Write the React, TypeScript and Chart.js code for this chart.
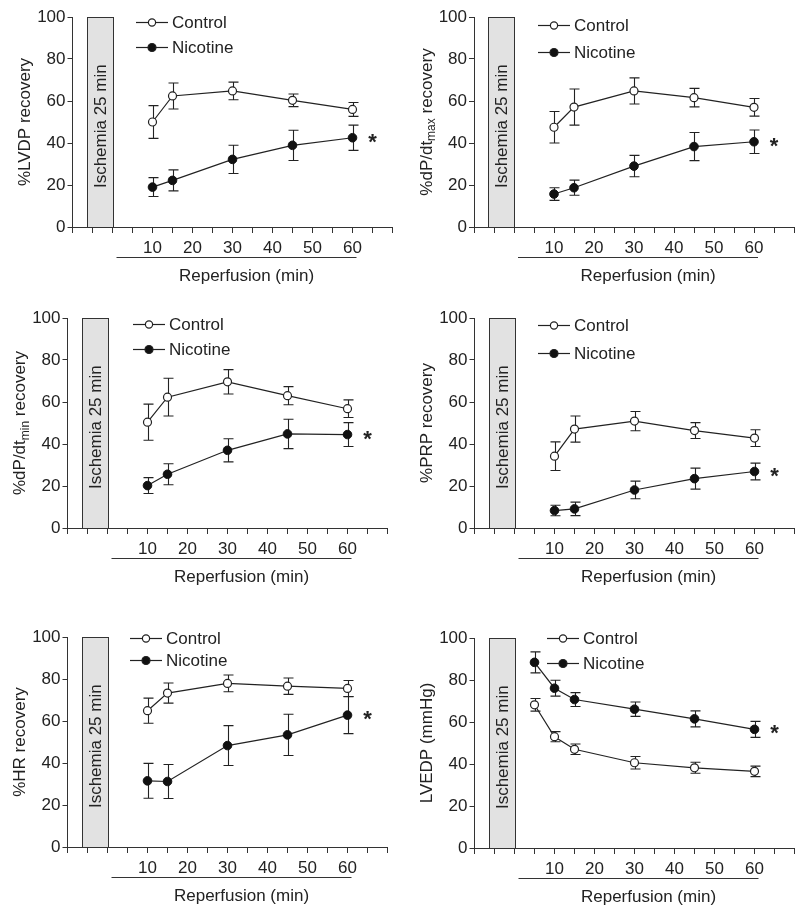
import React, { useEffect, useRef } from 'react';
import { Chart, registerables } from 'chart.js';

Chart.register(...registerables);

// ---------- data ----------
const seriesNames = ['Control', 'Nicotine'];
const recoveryTimes = [10, 15, 30, 45, 60];
const lvedpTimes = [5, 10, 15, 30, 45, 60];
const xTickMarks = [-10, -5, 0, 5, 10, 15, 20, 25, 30, 35, 40, 45, 50, 55, 60, 65, 70];
const xTickLabels = [10, 20, 30, 40, 50, 60];
const yTickValues = [0, 20, 40, 60, 80, 100];
const ischemiaSpan = [-6.5, 0];
const reperfusionSpan = [1, 61];
const ischemiaLabel = 'Ischemia 25 min';
const reperfusionLabel = 'Reperfusion (min)';

const lvdpControl = [50.0, 62.4, 64.8, 60.3, 56.0];
const lvdpControlSem = [7.8, 6.2, 4.2, 3.0, 3.3];
const lvdpNicotine = [19.0, 22.2, 32.2, 38.9, 42.5];
const lvdpNicotineSem = [4.5, 5.0, 6.7, 7.2, 6.0];

const dpMaxControl = [47.5, 57.1, 64.8, 61.6, 57.0];
const dpMaxControlSem = [7.5, 8.6, 6.2, 4.4, 4.2];
const dpMaxNicotine = [15.7, 18.7, 29.0, 38.3, 40.6];
const dpMaxNicotineSem = [3.0, 3.6, 5.1, 6.7, 5.6];

const dpMinControl = [50.4, 62.3, 69.6, 63.0, 56.8];
const dpMinControlSem = [8.6, 9.0, 5.8, 4.3, 4.2];
const dpMinNicotine = [20.2, 25.6, 37.0, 44.8, 44.5];
const dpMinNicotineSem = [3.8, 5.0, 5.5, 7.0, 5.7];

const prpControl = [34.2, 47.1, 50.9, 46.4, 42.8];
const prpControlSem = [6.8, 6.2, 4.6, 3.8, 4.0];
const prpNicotine = [8.3, 9.1, 18.1, 23.5, 26.9];
const prpNicotineSem = [2.5, 3.2, 4.2, 5.0, 4.0];

const hrControl = [64.9, 73.3, 77.9, 76.6, 75.5];
const hrControlSem = [6.0, 4.8, 4.0, 3.9, 3.8];
const hrNicotine = [31.5, 31.2, 48.3, 53.4, 62.8];
const hrNicotineSem = [8.3, 8.1, 9.5, 9.8, 8.8];

const lvedpControl = [68.2, 53.0, 47.0, 40.6, 38.2, 36.5];
const lvedpControlSem = [3.0, 2.4, 2.5, 3.0, 2.6, 2.5];
const lvedpNicotine = [88.4, 76.1, 70.7, 66.1, 61.5, 56.5];
const lvedpNicotineSem = [5.0, 3.8, 3.3, 3.4, 3.8, 3.8];

// ---------- panels ----------
type Seg = { text: string; sub?: boolean };
type PanelDef = {
  key: string;
  title: Seg[];
  times: number[];
  control: number[];
  controlSem: number[];
  nicotine: number[];
  nicotineSem: number[];
  // layout
  left: number;
  top: number;
  h: number;
  area: [number, number, number, number];
  legend: [number, number, number];
};

const panels: PanelDef[] = [
  {
    key: 'lvdp', title: [{ text: '%LVDP recovery' }], times: recoveryTimes,
    control: lvdpControl, controlSem: lvdpControlSem, nicotine: lvdpNicotine, nicotineSem: lvdpNicotineSem,
    left: 0, top: 0, h: 300, area: [72.5, 17, 392.5, 227], legend: [136, 22, 47],
  },
  {
    key: 'dpmax', title: [{ text: '%dP/dt' }, { text: 'max', sub: true }, { text: ' recovery' }], times: recoveryTimes,
    control: dpMaxControl, controlSem: dpMaxControlSem, nicotine: dpMaxNicotine, nicotineSem: dpMaxNicotineSem,
    left: 400, top: 0, h: 300, area: [74, 17, 394, 227], legend: [138, 25, 52],
  },
  {
    key: 'dpmin', title: [{ text: '%dP/dt' }, { text: 'min', sub: true }, { text: ' recovery' }], times: recoveryTimes,
    control: dpMinControl, controlSem: dpMinControlSem, nicotine: dpMinNicotine, nicotineSem: dpMinNicotineSem,
    left: 0, top: 300, h: 300, area: [67.5, 18, 387.5, 228], legend: [133, 24, 49],
  },
  {
    key: 'prp', title: [{ text: '%PRP recovery' }], times: recoveryTimes,
    control: prpControl, controlSem: prpControlSem, nicotine: prpNicotine, nicotineSem: prpNicotineSem,
    left: 400, top: 300, h: 300, area: [74.5, 18, 394.5, 228], legend: [138, 25, 53],
  },
  {
    key: 'hr', title: [{ text: '%HR recovery' }], times: recoveryTimes,
    control: hrControl, controlSem: hrControlSem, nicotine: hrNicotine, nicotineSem: hrNicotineSem,
    left: 0, top: 600, h: 309, area: [67.5, 37, 387.5, 247], legend: [130, 38, 60],
  },
  {
    key: 'lvedp', title: [{ text: 'LVEDP (mmHg)' }], times: lvedpTimes,
    control: lvedpControl, controlSem: lvedpControlSem, nicotine: lvedpNicotine, nicotineSem: lvedpNicotineSem,
    left: 400, top: 600, h: 309, area: [74.5, 38, 394.5, 248], legend: [147, 38, 63],
  },
];

const FONT = '"Liberation Sans", Arial, Helvetica, sans-serif';
const INK = '#222';
const AXIS = '#333';
const TICK_SIZE = 17;
const LABEL_SIZE = 17;

function makeDecor(p: PanelDef) {
  return {
    id: 'decor_' + p.key,
    beforeDatasetsDraw(chart: any) {
      const { ctx } = chart;
      const xs = chart.scales.x;
      const ys = chart.scales.y;
      ctx.save();
      // ischemia box
      const bx0 = Math.round(xs.getPixelForValue(ischemiaSpan[0])) + 0.5;
      const bx1 = Math.round(xs.getPixelForValue(ischemiaSpan[1])) + 0.5;
      const by0 = Math.round(ys.getPixelForValue(100)) + 0.5;
      const by1 = Math.round(ys.getPixelForValue(0)) + 0.5;
      ctx.fillStyle = '#e2e2e2';
      ctx.fillRect(bx0, by0, bx1 - bx0, by1 - by0);
      ctx.strokeStyle = AXIS;
      ctx.lineWidth = 1;
      ctx.strokeRect(bx0, by0, bx1 - bx0, by1 - by0);
      ctx.save();
      ctx.translate((bx0 + bx1) / 2, ys.getPixelForValue(48));
      ctx.rotate(-Math.PI / 2);
      ctx.fillStyle = INK;
      ctx.font = `${LABEL_SIZE}px ${FONT}`;
      ctx.textAlign = 'center';
      ctx.textBaseline = 'middle';
      ctx.fillText(ischemiaLabel, 0, 1);
      ctx.restore();

      // error bars
      chart.data.datasets.forEach((ds: any, i: number) => {
        const meta = chart.getDatasetMeta(i);
        meta.data.forEach((pt: any, j: number) => {
          const v = ds.data[j].y;
          const e = ds.errors[j];
          const px = Math.round(pt.x) + 0.5;
          const ya = ys.getPixelForValue(v + e);
          const yb = ys.getPixelForValue(v - e);
          ctx.strokeStyle = INK;
          ctx.lineWidth = 1.1;
          ctx.beginPath();
          ctx.moveTo(px, ya);
          ctx.lineTo(px, yb);
          ctx.moveTo(px - 5, ya);
          ctx.lineTo(px + 5, ya);
          ctx.moveTo(px - 5, yb);
          ctx.lineTo(px + 5, yb);
          ctx.stroke();
        });
      });
      ctx.restore();
    },
    afterDraw(chart: any) {
      const { ctx, chartArea } = chart;
      const xs = chart.scales.x;
      const ys = chart.scales.y;
      ctx.save();
      ctx.fillStyle = INK;
      ctx.strokeStyle = INK;

      // legend
      const [lx, ly0, ly1] = p.legend;
      [ly0, ly1].forEach((ly, i) => {
        ctx.lineWidth = 1.2;
        ctx.beginPath();
        ctx.moveTo(lx, ly + 0.5);
        ctx.lineTo(lx + 32, ly + 0.5);
        ctx.stroke();
        ctx.beginPath();
        ctx.arc(lx + 16, ly + 0.5, i === 0 ? 3.6 : 4, 0, Math.PI * 2);
        ctx.fillStyle = i === 0 ? '#fff' : '#111';
        ctx.fill();
        ctx.stroke();
        ctx.fillStyle = INK;
        ctx.font = `${LABEL_SIZE}px ${FONT}`;
        ctx.textAlign = 'left';
        ctx.textBaseline = 'middle';
        ctx.fillText(seriesNames[i], lx + 36, ly + 1);
      });

      // asterisk
      const last = p.nicotine[p.nicotine.length - 1];
      ctx.font = `bold 22px ${FONT}`;
      ctx.textAlign = 'center';
      ctx.textBaseline = 'middle';
      ctx.fillText('*', xs.getPixelForValue(65), ys.getPixelForValue(last) + 5);

      // reperfusion bar + label
      const ry = Math.round(chartArea.bottom + 30) + 0.5;
      ctx.lineWidth = 1;
      ctx.strokeStyle = AXIS;
      ctx.beginPath();
      ctx.moveTo(xs.getPixelForValue(reperfusionSpan[0]), ry);
      ctx.lineTo(xs.getPixelForValue(reperfusionSpan[1]), ry);
      ctx.stroke();
      ctx.font = `${LABEL_SIZE}px ${FONT}`;
      ctx.textAlign = 'center';
      ctx.textBaseline = 'middle';
      ctx.fillText(reperfusionLabel, xs.getPixelForValue(33.5), chartArea.bottom + 49);

      // y title with subscripts
      const mainFont = `${LABEL_SIZE}px ${FONT}`;
      const subFont = `12px ${FONT}`;
      let total = 0;
      const widths = p.title.map((s) => {
        ctx.font = s.sub ? subFont : mainFont;
        const w = ctx.measureText(s.text).width;
        total += w;
        return w;
      });
      ctx.translate(chartArea.left - 47, ys.getPixelForValue(50));
      ctx.rotate(-Math.PI / 2);
      ctx.textAlign = 'left';
      ctx.textBaseline = 'middle';
      let cx = -total / 2;
      p.title.forEach((s, i) => {
        ctx.font = s.sub ? subFont : mainFont;
        ctx.fillText(s.text, cx, s.sub ? 5 : 0);
        cx += widths[i];
      });
      ctx.restore();
    },
  };
}

function buildConfig(p: PanelDef): any {
  const [L, T, R, B] = p.area;
  const mk = (vals: number[]) => vals.map((v, i) => ({ x: p.times[i], y: v }));
  return {
    type: 'line',
    data: {
      datasets: [
        {
          label: seriesNames[0],
          data: mk(p.control),
          errors: p.controlSem,
          borderColor: INK,
          borderWidth: 1.2,
          pointRadius: 4,
          pointBorderWidth: 1.2,
          pointBackgroundColor: '#fff',
          pointBorderColor: INK,
          tension: 0,
          clip: false,
        },
        {
          label: seriesNames[1],
          data: mk(p.nicotine),
          errors: p.nicotineSem,
          borderColor: INK,
          borderWidth: 1.2,
          pointRadius: 4.3,
          pointBorderWidth: 1,
          pointBackgroundColor: '#111',
          pointBorderColor: '#111',
          tension: 0,
          clip: false,
        },
      ],
    },
    options: {
      animation: false,
      responsive: false,
      maintainAspectRatio: false,
      events: [],
      layout: { padding: { left: 0, top: T, right: 400 - R, bottom: 0 } },
      plugins: { legend: { display: false }, tooltip: { enabled: false } },
      scales: {
        x: {
          type: 'linear',
          min: -10,
          max: 70,
          afterBuildTicks: (s: any) => {
            s.ticks = xTickMarks.map((v) => ({ value: v }));
          },
          afterFit: (s: any) => {
            s.height = p.h - B;
          },
          ticks: {
            autoSkip: false,
            maxRotation: 0,
            padding: 5,
            color: INK,
            font: { family: FONT, size: TICK_SIZE },
            callback: (v: number) => (xTickLabels.includes(v) ? String(v) : ''),
          },
          grid: { drawOnChartArea: false, drawTicks: true, tickLength: 6, color: AXIS, lineWidth: 1 },
          border: { color: AXIS, width: 1 },
        },
        y: {
          type: 'linear',
          min: 0,
          max: 100,
          afterBuildTicks: (s: any) => {
            s.ticks = yTickValues.map((v) => ({ value: v }));
          },
          afterFit: (s: any) => {
            s.width = L;
          },
          ticks: {
            padding: 2,
            color: INK,
            font: { family: FONT, size: TICK_SIZE },
          },
          grid: { drawOnChartArea: false, drawTicks: true, tickLength: 5, color: AXIS, lineWidth: 1 },
          border: { color: AXIS, width: 1 },
        },
      },
    },
    plugins: [makeDecor(p)],
  };
}

function Panel({ p }: { p: PanelDef }) {
  const ref = useRef<HTMLCanvasElement | null>(null);
  useEffect(() => {
    if (!ref.current) return;
    const chart = new Chart(ref.current, buildConfig(p));
    return () => chart.destroy();
  }, [p]);
  return (
    <canvas
      ref={ref}
      width={400}
      height={p.h}
      style={{ position: 'absolute', left: p.left, top: p.top, width: 400, height: p.h }}
    />
  );
}

export default function App() {
  return (
    <div style={{ position: 'absolute', left: 0, top: 0, width: 800, height: 909, background: '#fff' }}>
      {panels.map((p) => (
        <Panel key={p.key} p={p} />
      ))}
    </div>
  );
}
